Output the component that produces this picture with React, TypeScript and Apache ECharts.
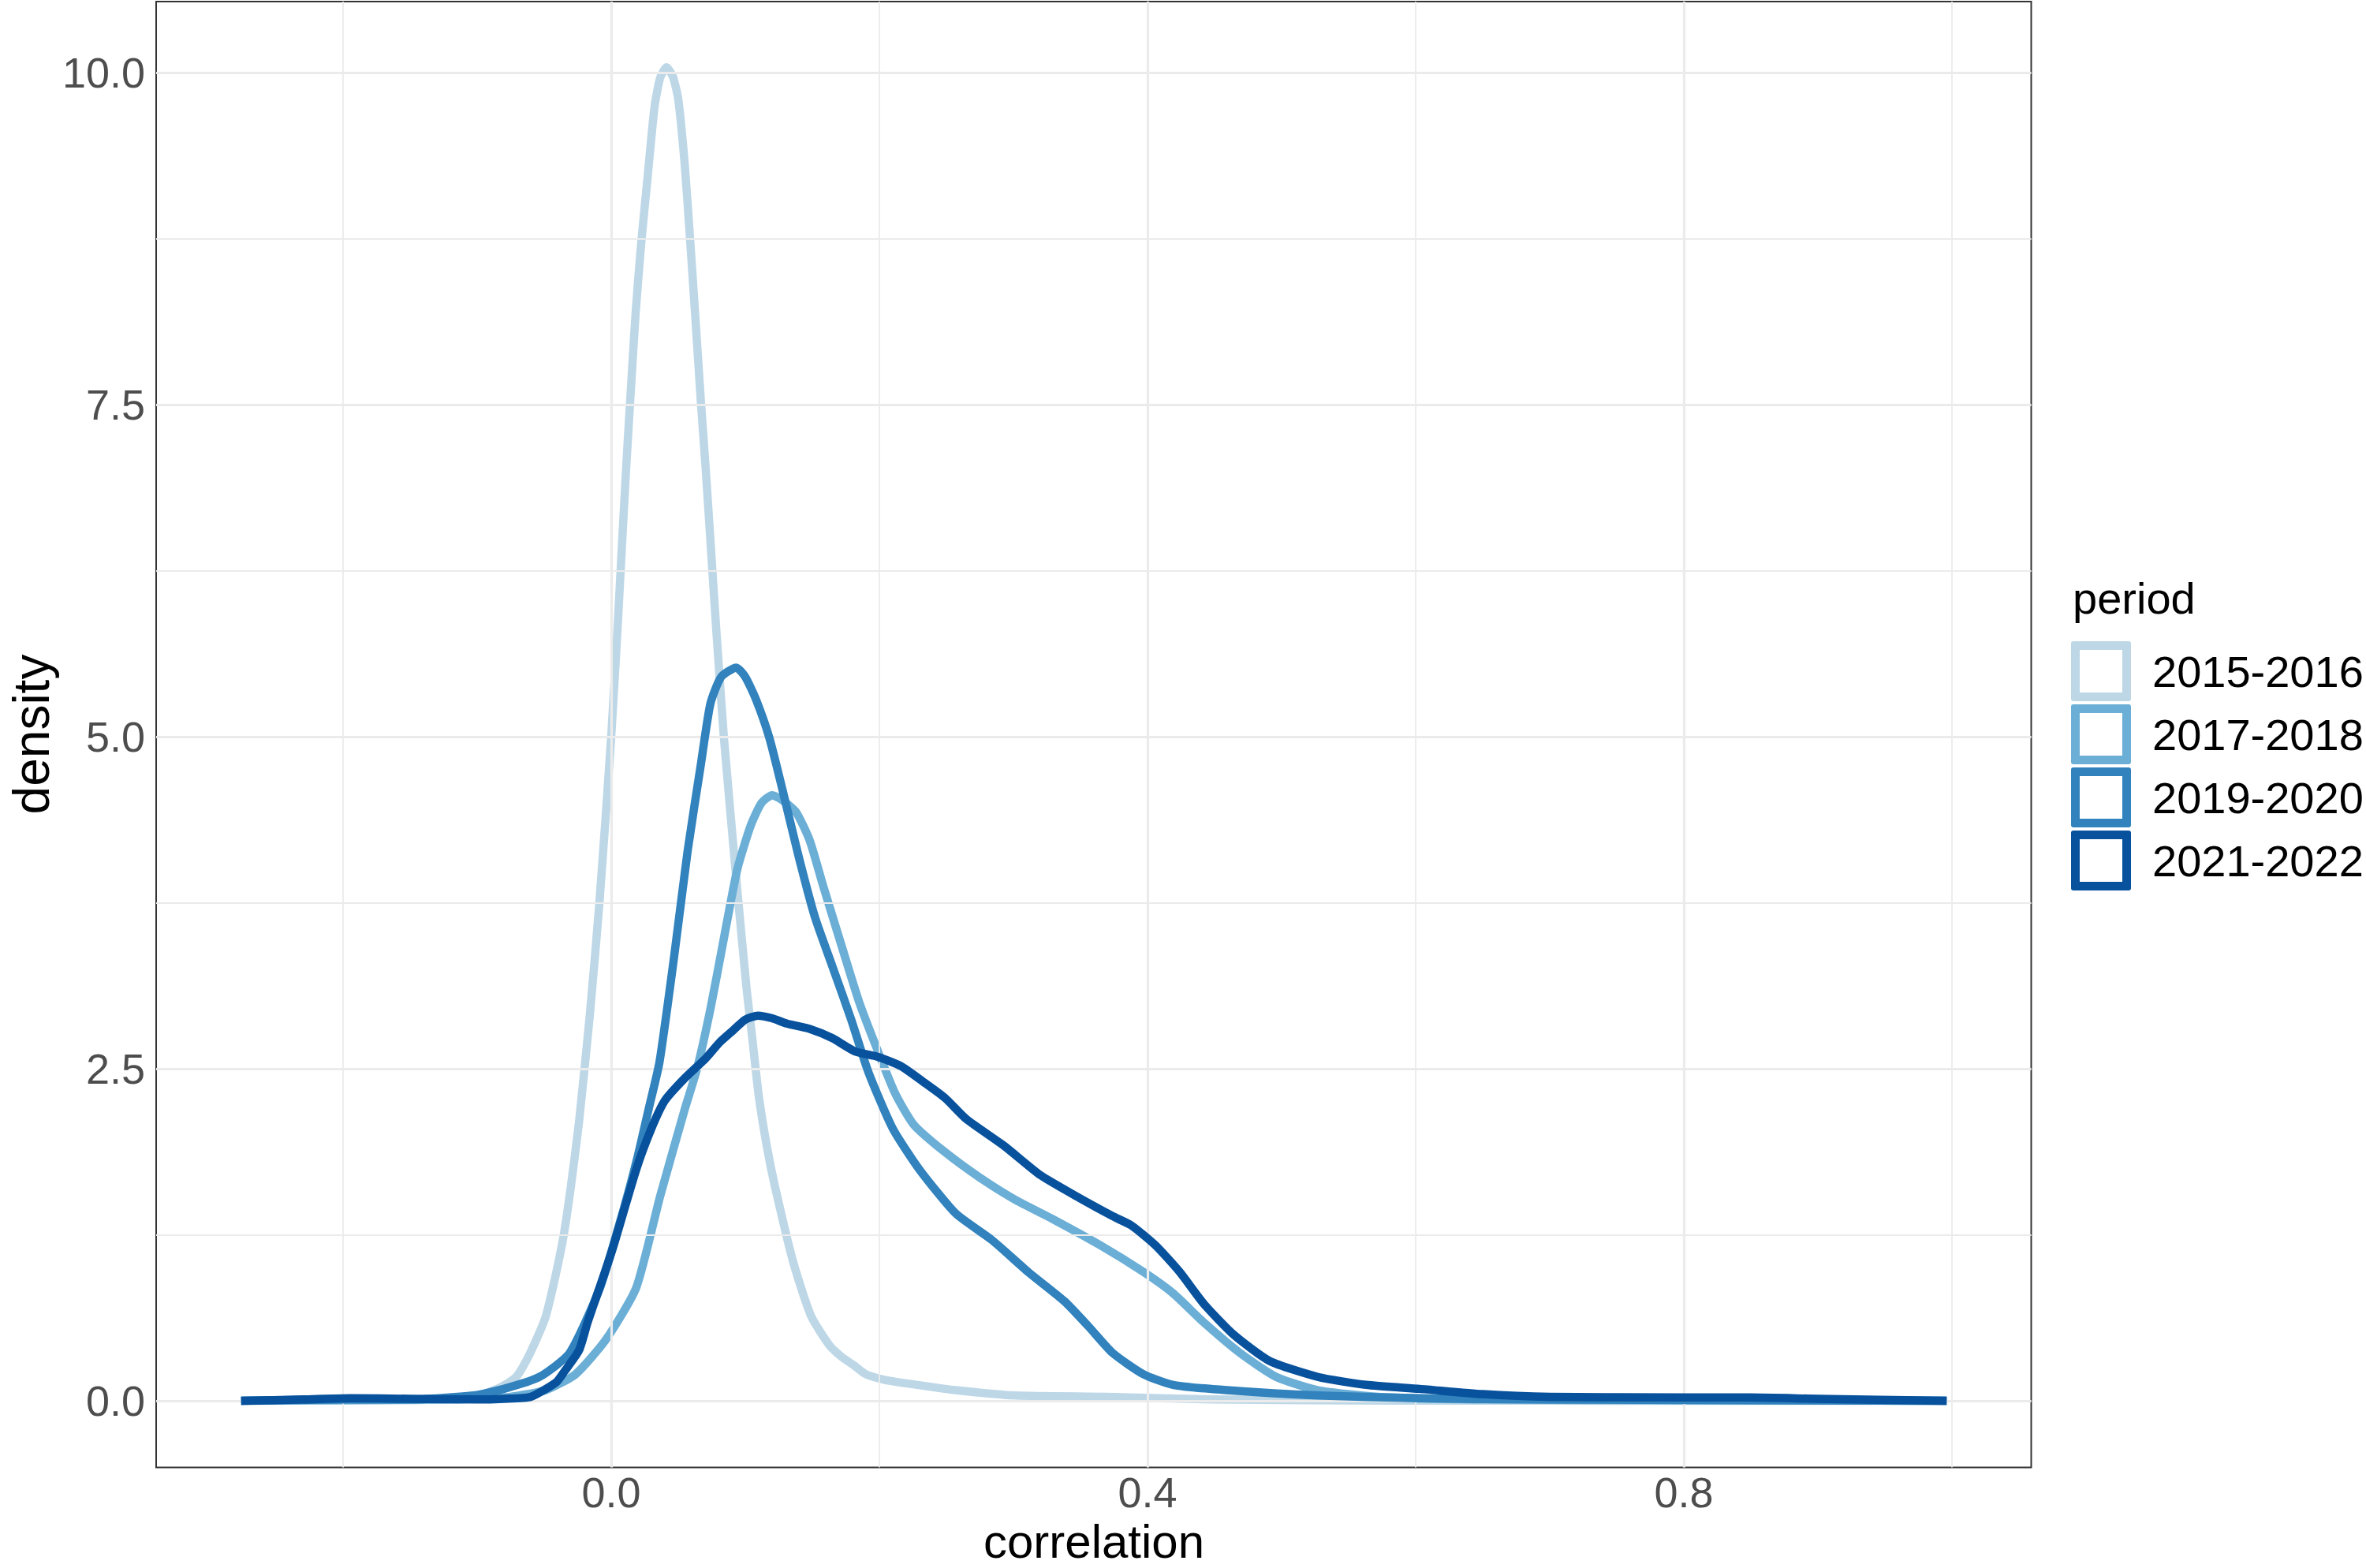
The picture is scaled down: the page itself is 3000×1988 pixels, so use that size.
import React, { useEffect, useRef } from "react";
import * as echarts from "echarts";

const PERIODS = ["2015-2016", "2017-2018", "2019-2020", "2021-2022"];
const COLORS = ["#BDD7E7", "#6BAED6", "#3182BD", "#08519C"];

const X_TICKS = [0, 0.4, 0.8];
const X_MINOR = [-0.2, 0.2, 0.6, 1.0];
const Y_TICKS = [0, 2.5, 5, 7.5, 10];
const Y_MINOR = [1.25, 3.75, 6.25, 8.75];

const D_2015: [number, number][] = [
  [-0.276, 0], [-0.2, 0.003], [-0.15, 0.005], [-0.12, 0.015], [-0.1, 0.04],
  [-0.085, 0.09], [-0.076, 0.14], [-0.07, 0.19], [-0.0624, 0.32], [-0.055, 0.48],
  [-0.049, 0.63], [-0.042, 0.92], [-0.0354, 1.25], [-0.03, 1.62], [-0.024, 2.1],
  [-0.016, 2.9], [-0.0088, 3.75], [0.0, 5.0], [0.0049, 5.85], [0.0078, 6.4],
  [0.0113, 7.05], [0.0147, 7.62], [0.0182, 8.19], [0.0224, 8.72], [0.0275, 9.25],
  [0.0324, 9.75], [0.0365, 9.96], [0.0412, 10.04], [0.046, 9.97], [0.05, 9.8],
  [0.0549, 9.3], [0.0588, 8.75], [0.0628, 8.15], [0.0667, 7.55], [0.0706, 7.0],
  [0.0745, 6.4], [0.0784, 5.8], [0.084, 5.0], [0.094, 3.85], [0.101, 3.1],
  [0.105, 2.75], [0.11, 2.3], [0.116, 1.92], [0.122, 1.62], [0.1356, 1.05],
  [0.149, 0.64], [0.1626, 0.42], [0.172, 0.33], [0.1806, 0.27], [0.19, 0.2],
  [0.203, 0.16], [0.221, 0.13], [0.257, 0.08], [0.302, 0.04], [0.37, 0.03],
  [0.45, 0.01], [0.55, 0.003], [0.7, 0.001], [0.996, 0],
];

const D_2017: [number, number][] = [
  [-0.276, 0], [-0.2, 0.005], [-0.12, 0.01], [-0.09, 0.02], [-0.075, 0.03],
  [-0.049, 0.08], [-0.0266, 0.2], [-0.004, 0.46], [0.0186, 0.85], [0.0365, 1.54],
  [0.055, 2.2], [0.064, 2.5], [0.074, 2.95], [0.084, 3.48], [0.094, 4.0],
  [0.104, 4.33], [0.112, 4.5], [0.12, 4.56], [0.128, 4.52], [0.138, 4.43],
  [0.148, 4.22], [0.158, 3.88], [0.172, 3.42], [0.185, 3.0], [0.199, 2.63],
  [0.212, 2.31], [0.2256, 2.08], [0.248, 1.88], [0.275, 1.68], [0.302, 1.51],
  [0.329, 1.37], [0.365, 1.17], [0.397, 0.97], [0.419, 0.81], [0.442, 0.59],
  [0.469, 0.36], [0.496, 0.18], [0.527, 0.08], [0.572, 0.03], [0.65, 0.01],
  [0.8, 0.005], [0.996, 0],
];

const D_2019: [number, number][] = [
  [-0.276, 0], [-0.2, 0.01], [-0.15, 0.01], [-0.103, 0.04], [-0.08, 0.09],
  [-0.0535, 0.18], [-0.031, 0.36], [-0.0084, 0.85], [0.0095, 1.45], [0.02, 1.85],
  [0.028, 2.2], [0.036, 2.55], [0.047, 3.35], [0.057, 4.14], [0.067, 4.8],
  [0.074, 5.25], [0.082, 5.45], [0.0933, 5.52], [0.1, 5.45], [0.108, 5.28],
  [0.118, 4.99], [0.128, 4.59], [0.14, 4.09], [0.152, 3.64], [0.165, 3.27],
  [0.179, 2.87], [0.192, 2.47], [0.21, 2.05], [0.23, 1.74], [0.257, 1.41],
  [0.284, 1.21], [0.311, 0.97], [0.338, 0.75], [0.356, 0.56], [0.374, 0.36],
  [0.397, 0.2], [0.419, 0.12], [0.459, 0.08], [0.527, 0.04], [0.603, 0.02],
  [0.7, 0.01], [0.996, 0],
];

const D_2021: [number, number][] = [
  [-0.276, 0], [-0.23, 0.01], [-0.195, 0.02], [-0.15, 0.015], [-0.1, 0.01],
  [-0.08, 0.015], [-0.06, 0.03], [-0.041, 0.14], [-0.035, 0.22], [-0.024, 0.38],
  [-0.0176, 0.59], [0.0006, 1.13], [0.0186, 1.74], [0.03, 2.05], [0.04, 2.26],
  [0.054, 2.42], [0.0706, 2.58], [0.081, 2.7], [0.091, 2.79], [0.1, 2.87],
  [0.1094, 2.9], [0.12, 2.88], [0.131, 2.84], [0.148, 2.8], [0.165, 2.73],
  [0.182, 2.63], [0.199, 2.59], [0.216, 2.52], [0.233, 2.4], [0.249, 2.28],
  [0.265, 2.12], [0.293, 1.92], [0.32, 1.7], [0.347, 1.54], [0.374, 1.39],
  [0.388, 1.32], [0.406, 1.17], [0.424, 0.97], [0.442, 0.73], [0.464, 0.5],
  [0.491, 0.3], [0.527, 0.18], [0.563, 0.12], [0.603, 0.09], [0.65, 0.05],
  [0.7, 0.03], [0.8, 0.025], [0.85, 0.025], [0.9, 0.015], [0.996, 0],
];

const SERIES_DATA = [D_2015, D_2017, D_2019, D_2021];

const FONT = "Liberation Sans, Arial, sans-serif";
const ICON =
  "path://M3,0H73Q76,0 76,3V73Q76,76 73,76H3Q0,76 0,73V3Q0,0 3,0Z M11,11V65H65V11H11Z";

export default function App() {
  const ref = useRef<HTMLDivElement>(null);

  useEffect(() => {
    document.body.style.margin = "0";
    if (!ref.current) return;
    const chart = echarts.init(ref.current, null, { renderer: "svg" });

    const gridSeries = (xs: number[], ys: number[], width: number, name: string) => ({
      type: "line",
      name,
      data: [[0, -100]],
      showSymbol: false,
      symbol: "none",
      lineStyle: { width: 0 },
      silent: true,
      z: 1,
      markLine: {
        silent: true,
        symbol: ["none", "none"],
        label: { show: false },
        emphasis: { disabled: true },
        animation: false,
        lineStyle: { color: "#EBEBEB", width, type: "solid" },
        data: [
          ...xs.map((v) => ({ xAxis: v })),
          ...ys.map((v) => ({ yAxis: v })),
        ],
      },
    });

    const option: any = {
      animation: false,
      backgroundColor: "#FFFFFF",
      grid: {
        left: 198,
        top: 2,
        width: 2377.5,
        height: 1858.5,
        show: true,
        borderColor: "#333333",
        borderWidth: 2,
        backgroundColor: "transparent",
        containLabel: false,
      },
      xAxis: {
        type: "value",
        min: -0.3394,
        max: 1.0591,
        axisLine: { show: false },
        splitLine: { show: false },
        axisTick: {
          show: true,
          length: 9,
          customValues: X_TICKS,
          lineStyle: { color: "#333333", width: 2 },
        },
        axisLabel: {
          customValues: X_TICKS,
          formatter: (v: number) => v.toFixed(1),
          fontSize: 54,
          color: "#4D4D4D",
          margin: 4,
          fontFamily: FONT,
        },
      },
      yAxis: {
        type: "value",
        min: -0.5016,
        max: 10.535,
        axisLine: { show: false },
        splitLine: { show: false },
        axisTick: {
          show: true,
          length: 9,
          customValues: Y_TICKS,
          lineStyle: { color: "#333333", width: 2 },
        },
        axisLabel: {
          customValues: Y_TICKS,
          formatter: (v: number) => v.toFixed(1),
          fontSize: 54,
          color: "#4D4D4D",
          margin: 14,
          fontFamily: FONT,
        },
      },
      legend: {
        data: PERIODS.map((p) => ({ name: p, icon: ICON })),
        orient: "vertical",
        left: 2626,
        top: 813,
        itemWidth: 76,
        itemHeight: 76,
        itemGap: 4,
        padding: 0,
        selectedMode: false,
        textStyle: {
          fontSize: 56,
          color: "#000000",
          fontFamily: FONT,
          padding: [0, 0, 0, 22],
        },
      },
      graphic: [
        {
          type: "text",
          left: 2628,
          top: 778 - 0.3465 * 56 - 28,
          style: {
            text: "period",
            fontSize: 56,
            fontFamily: FONT,
            fill: "#000000",
          },
        },
        {
          type: "text",
          x: 1387,
          y: 1954,
          style: {
            text: "correlation",
            fontSize: 60,
            fontFamily: FONT,
            fill: "#000000",
            align: "center",
            verticalAlign: "middle",
          },
        },
        {
          type: "text",
          x: 40,
          y: 931,
          rotation: Math.PI / 2,
          style: {
            text: "density",
            fontSize: 64,
            fontFamily: FONT,
            fill: "#000000",
            align: "center",
            verticalAlign: "middle",
          },
        },
      ],
      series: [
        gridSeries(X_MINOR, Y_MINOR, 1.8, "_minor"),
        gridSeries(X_TICKS, Y_TICKS, 3.2, "_major"),
        ...PERIODS.map((p, i) => ({
          type: "line",
          name: p,
          data: SERIES_DATA[i],
          showSymbol: false,
          symbol: "none",
          smooth: 0.2,
          color: COLORS[i],
          itemStyle: { color: COLORS[i] },
          lineStyle: { color: COLORS[i], width: 10.5, cap: "butt", join: "round" },
          emphasis: { disabled: true },
          z: 3 + i,
        })),
      ],
    };

    chart.setOption(option);
    return () => chart.dispose();
  }, []);

  return <div ref={ref} style={{ width: 3000, height: 1988 }} />;
}
